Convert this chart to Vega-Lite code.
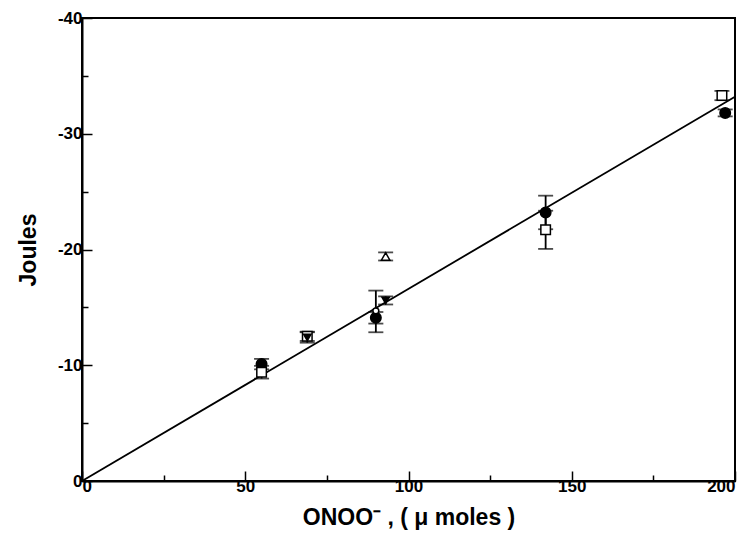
{
  "$schema": "https://vega.github.io/schema/vega-lite/v6.json",
  "width": 653,
  "height": 463,
  "autosize": "none",
  "padding": {"left": 82, "top": 18, "right": 16, "bottom": 67},
  "background": "white",
  "config": {
    "view": {"stroke": "black", "strokeWidth": 2},
    "font": "Liberation Sans"
  },
  "datasets": {
    "pts": [
      {"series": "A", "x": 55, "y": -10.1, "lo": -10.55, "hi": -9.65},
      {"series": "A", "x": 90, "y": -14.1, "lo": -14.6, "hi": -13.6},
      {"series": "A", "x": 142, "y": -23.2, "lo": -24.65, "hi": -21.75},
      {"series": "A", "x": 197, "y": -31.8, "lo": -32.1, "hi": -31.5},
      {"series": "B", "x": 55, "y": -9.4, "lo": -9.95, "hi": -8.85},
      {"series": "B", "x": 69, "y": -12.5, "lo": -12.9, "hi": -12.1},
      {"series": "B", "x": 142, "y": -21.7, "lo": -23.35, "hi": -20.05},
      {"series": "B", "x": 196, "y": -33.3, "lo": -33.7, "hi": -32.9},
      {"series": "C", "x": 93, "y": -19.4, "lo": -19.75, "hi": -19.05},
      {"series": "D", "x": 93, "y": -15.6, "lo": -15.95, "hi": -15.25},
      {"series": "D", "x": 69, "y": -12.4, "lo": -12.85, "hi": -11.95},
      {"series": "E", "x": 90, "y": -14.7, "lo": -16.45, "hi": -12.85}
    ],
    "fit": [
      {"x": 0, "y": 0},
      {"x": 200, "y": -33.2}
    ]
  },
  "layer": [
    {
      "data": {"name": "fit"},
      "mark": {"type": "line", "color": "black", "strokeWidth": 1.8, "clip": true},
      "encoding": {
        "x": {"field": "x", "type": "quantitative", "title": "ONOO⁻ ,  ( μ moles )"},
        "y": {"field": "y", "type": "quantitative", "title": "Joules"}
      }
    },
    {
      "data": {"name": "pts"},
      "mark": {"type": "errorbar", "ticks": {"size": 15, "color": "black", "thickness": 1.8}, "rule": {"color": "black", "strokeWidth": 1.8}},
      "encoding": {
        "x": {"field": "x", "type": "quantitative", "title": "ONOO⁻ ,  ( μ moles )"},
        "y": {"field": "lo", "type": "quantitative", "title": "Joules"},
        "y2": {"field": "hi"}
      }
    },
    {
      "data": {"name": "pts"},
      "mark": {"type": "point", "stroke": "black", "strokeWidth": 1.5, "opacity": 1},
      "encoding": {
        "x": {"field": "x", "type": "quantitative",
          "title": "ONOO⁻ ,  ( μ moles )",
          "scale": {"domain": [0, 200], "nice": false, "zero": false},
          "axis": {
            "values": [0, 25, 50, 75, 100, 125, 150, 175, 200],
            "labelExpr": "datum.value % 50 === 0 ? '' + datum.value : ''",
            "tickSize": {"condition": {"test": "datum.value % 50 === 0", "value": -10}, "value": -6},
            "tickColor": "black", "tickWidth": 1.5,
            "domainColor": "black", "domainWidth": 2,
            "grid": false,
            "labelPadding": 7,
            "labelFont": "Liberation Sans", "labelFontSize": 17, "labelFontWeight": "bold", "labelColor": "black",
            "titleFont": "Liberation Sans", "titleFontSize": 23, "titleFontWeight": "bold", "titleColor": "black",
            "titlePadding": 12
          }
        },
        "y": {"field": "y", "type": "quantitative",
          "title": "Joules",
          "scale": {"domain": [0, -40], "nice": false, "zero": false},
          "axis": {
            "values": [0, -5, -10, -15, -20, -25, -30, -35, -40],
            "labelExpr": "datum.value % 10 === 0 ? '' + datum.value : ''",
            "tickSize": {"condition": {"test": "datum.value % 10 === 0", "value": -10}, "value": -6},
            "tickColor": "black", "tickWidth": 1.5,
            "domainColor": "black", "domainWidth": 2,
            "grid": false,
            "labelPadding": 10,
            "labelFont": "Liberation Sans", "labelFontSize": 17, "labelFontWeight": "bold", "labelColor": "black",
            "titleFont": "Liberation Sans", "titleFontSize": 23, "titleFontWeight": "bold", "titleColor": "black",
            "titlePadding": 17
          }
        },
        "shape": {"field": "series", "type": "nominal",
          "scale": {"domain": ["A", "B", "C", "D", "E"], "range": ["circle", "square", "triangle-up", "triangle-down", "circle"]},
          "legend": null},
        "fill": {"field": "series", "type": "nominal",
          "scale": {"domain": ["A", "B", "C", "D", "E"], "range": ["black", "white", "white", "black", "white"]},
          "legend": null},
        "size": {"field": "series", "type": "nominal",
          "scale": {"domain": ["A", "B", "C", "D", "E"], "range": [110, 35, 45, 110, 35]},
          "legend": null}
      }
    }
  ]
}
